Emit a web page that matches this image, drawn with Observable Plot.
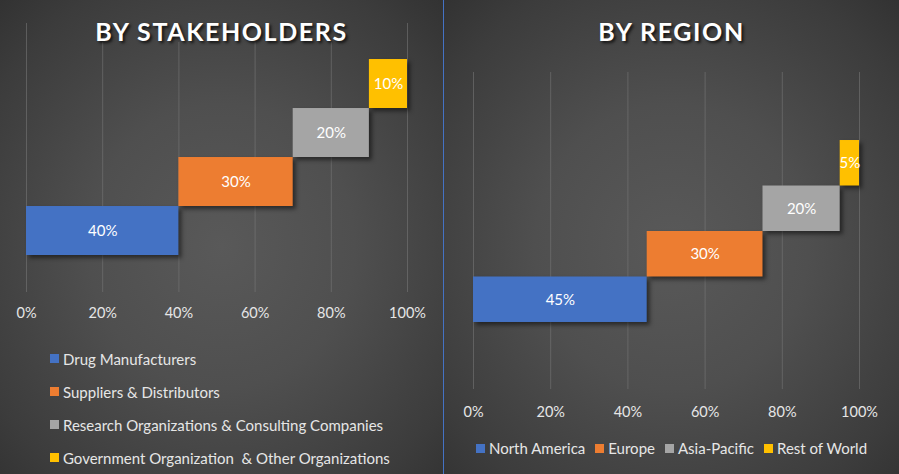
<!DOCTYPE html>
<html><head><meta charset="utf-8">
<script src="https://cdn.jsdelivr.net/npm/d3@7"></script>
<script src="https://cdn.jsdelivr.net/npm/@observablehq/plot@0.6"></script>
<style>
body{margin:0;background:#333;}
#wrap{position:relative;width:899px;height:474px;overflow:hidden;font-family:Lato,"Noto Sans",sans-serif;}
.panel{position:absolute;top:0;height:474px;overflow:hidden;}
#left{left:0;width:443px;background:radial-gradient(ellipse 75% 75% at 50% 52%, #595959 0%, #4f4f4f 40%, #3c3c3c 80%, #303030 100%);}
#right{left:444px;width:455px;background:radial-gradient(ellipse 75% 75% at 50% 52%, #595959 0%, #4f4f4f 40%, #3c3c3c 80%, #303030 100%);}
#divider{position:absolute;left:443px;top:0;width:1px;height:474px;background:#4472C4;}
.title{position:absolute;left:0;right:0;text-align:center;color:#fff;font-weight:bold;font-size:25px;letter-spacing:1.6px;text-shadow:2px 2px 3px rgba(0,0,0,.75);line-height:1;}
.panel svg{position:absolute;left:0;top:0;overflow:visible;}
.panel svg g[aria-label="rect"] rect{filter:drop-shadow(3px 3px 2px rgba(0,0,0,.5));}
.legend{position:absolute;color:#e6e6e6;font-size:15px;}
.legend .item{display:flex;align-items:center;white-space:pre;}
.legend .sw{width:9px;height:9px;margin-right:4px;flex:none;}
#legL{left:50px;top:342px;}
#legL .item{height:33px;}
#legR{left:0;right:0;top:438px;display:flex;justify-content:center;}
#legR .item{margin:0 5px;height:20px;}
</style>
</head><body>
<div id="wrap">
  <div class="panel" id="left"><div class="title" style="top:19px">BY STAKEHOLDERS</div><div class="legend" id="legL"></div></div>
  <div class="panel" id="right"><div class="title" style="top:19px">BY REGION</div><div class="legend" id="legR"></div></div>
  <div id="divider"></div>
</div>
<script>
const stakeholderCategories = ["Drug Manufacturers","Suppliers & Distributors","Research Organizations & Consulting Companies","Government Organization  & Other Organizations"];
const stakeholderShares = [40,30,20,10];
const regionCategories = ["North America","Europe","Asia-Pacific","Rest of World"];
const regionShares = [45,30,20,5];
const xTicks = [0,20,40,60,80,100];
const palette = ["#4472C4","#ED7D31","#A5A5A5","#FFC000"];

function waterfall(cats, vals, o){
  let acc = 0;
  const rows = cats.map((c,i)=>{const r={cat:c,i,value:vals[i],start:acc,end:acc+vals[i]}; acc+=vals[i]; return r;});
  const isEdge = d => d === xTicks[0] || d === xTicks[xTicks.length-1];
  return Plot.plot({
    width:o.width, height:o.height,
    marginTop:o.mt, marginBottom:o.mb, marginLeft:o.ml, marginRight:o.mr,
    style:{background:"transparent", color:"#e0e0e0", fontFamily:"Lato, sans-serif", fontSize:"14px", overflow:"visible"},
    x:{domain:[0,100]},
    y:{domain:o.ydom, axis:null},
    color:{domain:cats, range:palette},
    marks:[
      Plot.ruleX(xTicks,{x:d=>d, y1:o.ydom[0], y2:d=>isEdge(d) ? o.ydom[1] : o.innerTop, stroke:"#7a7a7a", strokeOpacity:0.55, strokeWidth:1}),
      Plot.axisX(xTicks,{tickSize:0, tickPadding:o.tp, tickFormat:d=>d+"%", label:null, fill:"#e6e6e6", fontSize:14.5}),
      Plot.rect(rows,{x1:"start", x2:"end", y1:"i", y2:d=>d.i+1, fill:"cat"}),
      Plot.text(rows,{x:d=>(d.start+d.end)/2, y:d=>d.i+0.5, text:d=>d.value+"%", fill:"white", fontSize:15})
    ]
  });
}

const left = waterfall(stakeholderCategories, stakeholderShares, {width:443, height:330, mt:23, mb:38, ml:26, mr:36, ydom:[-0.755,4.735], innerTop:4.347, tp:15});
document.getElementById("left").appendChild(left);
const right = waterfall(regionCategories, regionShares, {width:455, height:430, mt:72, mb:41, ml:29, mr:40, ydom:[-1.473,5.495], innerTop:5.495, tp:17});
document.getElementById("right").appendChild(right);

function legend(el, cats){
  cats.forEach((c,i)=>{
    const it=document.createElement("div"); it.className="item";
    const sw=document.createElement("span"); sw.className="sw"; sw.style.background=palette[i];
    const t=document.createElement("span"); t.textContent=c;
    it.appendChild(sw); it.appendChild(t); el.appendChild(it);
  });
}
legend(document.getElementById("legL"), stakeholderCategories);
legend(document.getElementById("legR"), regionCategories);
document.querySelectorAll(".title,.legend").forEach(e=>{e.style.zIndex=2;});
</script>
</body></html>
